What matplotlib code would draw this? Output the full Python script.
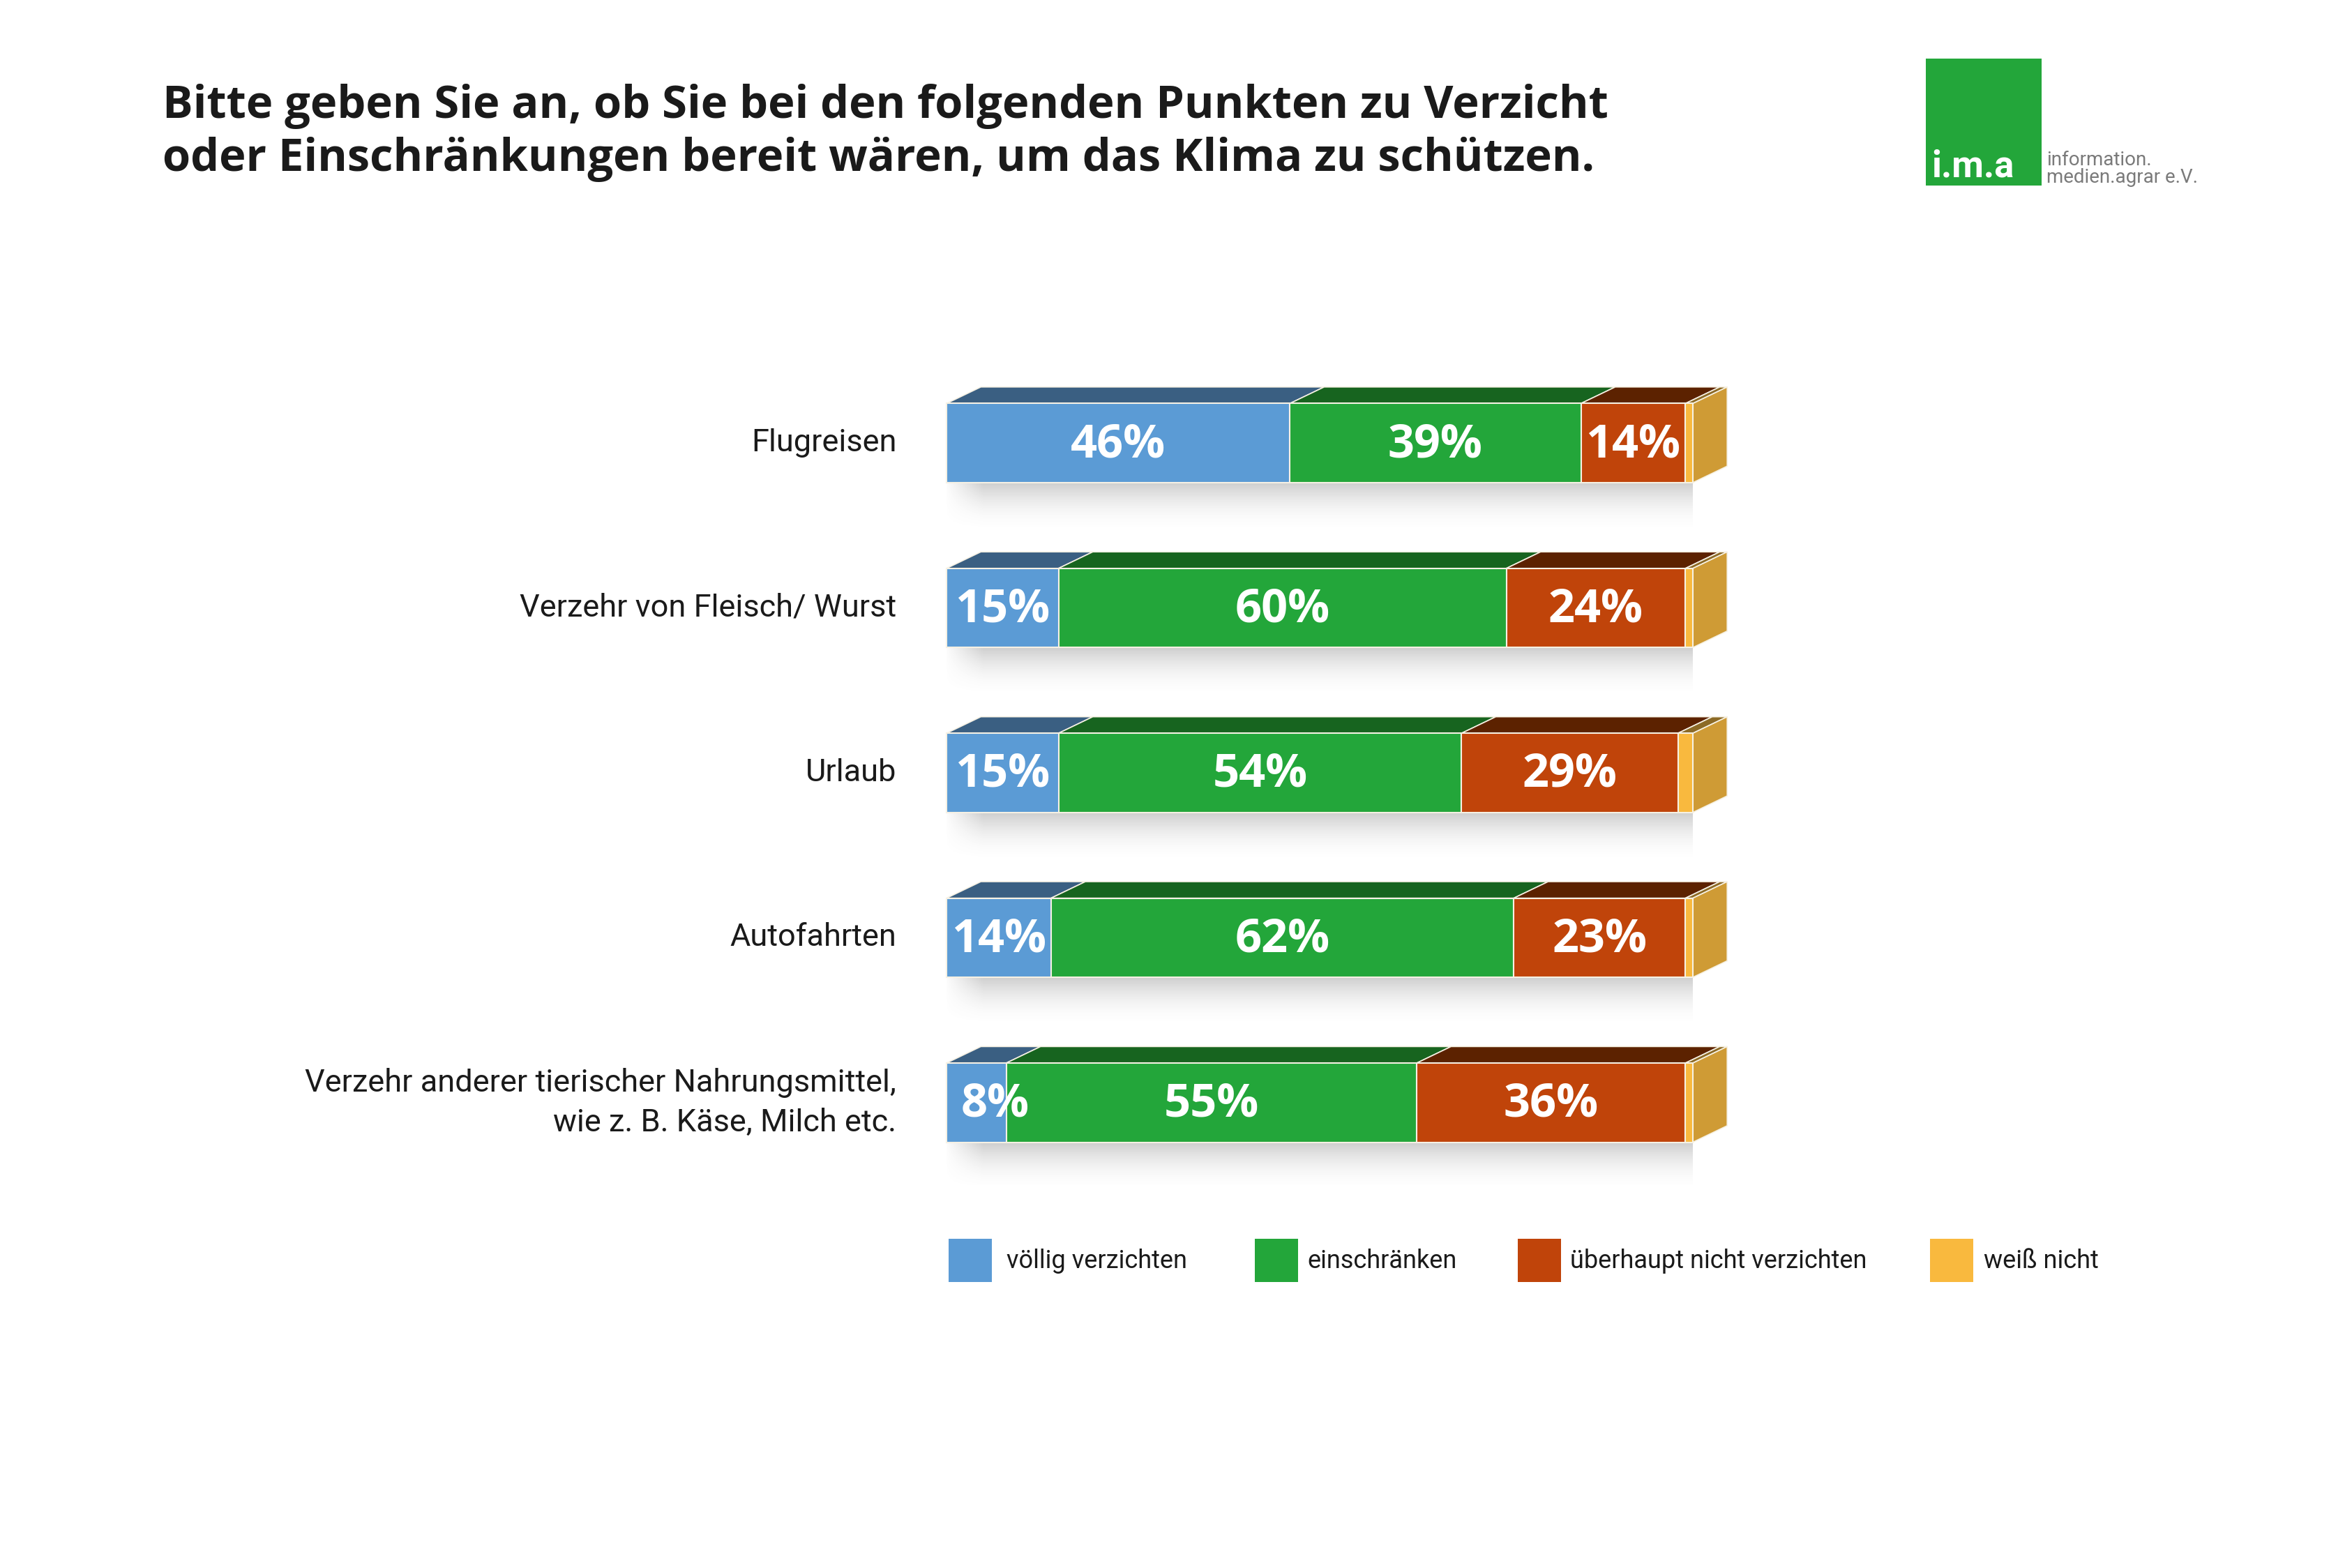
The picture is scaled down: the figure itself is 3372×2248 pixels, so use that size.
import numpy as np
import matplotlib
matplotlib.use("Agg")
import matplotlib.pyplot as plt
from matplotlib.patches import Polygon, Rectangle
from matplotlib import font_manager

# ------------------------ Data ------------------------
categories = [
    "Flugreisen",
    "Verzehr von Fleisch/ Wurst",
    "Urlaub",
    "Autofahrten",
    "Verzehr anderer tierischer Nahrungsmittel,\nwie z. B. Käse, Milch etc.",
]
voellig = [46, 15, 15, 14, 8]
einschraenken = [39, 60, 54, 62, 55]
ueberhaupt_nicht = [14, 24, 29, 23, 36]
weiss_nicht = [1, 1, 2, 1, 1]
series_names = ["völlig verzichten", "einschränken", "überhaupt nicht verzichten", "weiß nicht"]
show_label = [True, True, True, False]

TITLE = ("Bitte geben Sie an, ob Sie bei den folgenden Punkten zu Verzicht\n"
         "oder Einschränkungen bereit wären, um das Klima zu schützen.")

# ------------------------ Style ------------------------
front_colors = ["#5b9bd5", "#23a63a", "#c0440a", "#f9b93e"]
top_colors = ["#3a5f82", "#17641f", "#5c2200", "#8c6a26"]
side_color = "#cf9b35"
edge_col = "#f6f1e4"

names = {f.name for f in font_manager.fontManager.ttflist}
NARROW = "Roboto" if "Roboto" in names else "DejaVu Sans"
BOLD = "Open Sans" if "Open Sans" in names else "DejaVu Sans"

W, H = 3372, 2248
fig = plt.figure(figsize=(W / 100, H / 100), dpi=100)
fig.patch.set_facecolor("white")

# axes: x 0..100 spans 1357..2427 px, categories centred 635..1581 px
ax = fig.add_axes([1357 / W, 1 - 1699 / H, 1070 / W, 1182 / H])
ax.set_xlim(0, 100)
ax.set_ylim(4.5, -0.5)
ax.axis("off")

bar_h = 0.48
dx = 4.6
dy = 0.10

series = [voellig, einschraenken, ueberhaupt_nicht, weiss_nicht]

for i in range(len(categories)):
    top = i - bar_h / 2
    bot = i + bar_h / 2
    total = sum(s[i] for s in series)

    # soft shadow underneath
    ys = np.linspace(0, 1, 80)[:, None]
    xs = np.linspace(0, 1, 300)[None, :]
    alpha = 0.38 * (1 - ys) ** 2.0 * np.clip(np.minimum(xs, 1 - xs) / 0.05, 0, 1)
    img = np.zeros((80, 300, 4))
    img[..., :3] = 0.45
    img[..., 3] = alpha
    ax.imshow(img, extent=(-0.5, total + dx + 1.0, bot + 0.30, bot - 0.01), aspect="auto",
              interpolation="bilinear", zorder=1)

    left = 0
    for k, s in enumerate(series):
        v = s[i]
        right = left + v
        ax.add_patch(Polygon([(left, top), (right, top), (right + dx, top - dy), (left + dx, top - dy)],
                             closed=True, facecolor=top_colors[k], edgecolor=edge_col, lw=1.2,
                             zorder=3, clip_on=False))
        ax.add_patch(Rectangle((left, top), v, bar_h, facecolor=front_colors[k],
                               edgecolor=edge_col, lw=1.5, zorder=4, clip_on=False))
        if show_label[k]:
            xc = max(left + v / 2, left + 6.5)
            ax.text(xc, i + 0.01, f"{v}%", ha="center", va="center", color="white",
                    fontsize=48, fontweight="bold", family=BOLD, zorder=6, clip_on=False)
        left = right
    # right side face
    ax.add_patch(Polygon([(left, top), (left + dx, top - dy), (left + dx, bot - dy), (left, bot)],
                         closed=True, facecolor=side_color, edgecolor=edge_col, lw=1.2,
                         zorder=3, clip_on=False))

ax.set_xlim(0, 100)
ax.set_ylim(4.5, -0.5)

# category labels
for i, c in enumerate(categories):
    ax.text(-6.7, i, c, ha="right", va="center", multialignment="right", fontsize=32.5,
            family=NARROW, color="#1a1a1a", linespacing=1.45)

# title
fig.text(233 / W, 1 - 120 / H, TITLE, ha="left", va="top", fontsize=46.8, fontweight="bold",
         family=BOLD, color="#1a1a1a", linespacing=1.22)

# logo
fig.patches.append(Rectangle((2761 / W, 1 - 266 / H), 166 / W, 182 / H, transform=fig.transFigure,
                             facecolor="#23a63a", edgecolor="none"))
fig.text(2769 / W, 1 - 253 / H, "i.m.a", ha="left", va="baseline", fontsize=38, fontweight="bold",
         family=NARROW, color="white")
fig.text(2934 / W, 1 - 237 / H, "information.", ha="left", va="baseline",
         fontsize=20, family=NARROW, color="#7a7a7a")
fig.text(2934 / W, 1 - 262 / H, "medien.agrar e.V.", ha="left", va="baseline",
         fontsize=20, family=NARROW, color="#7a7a7a")

# legend (manual, positions)
leg_sq_x = [1360, 1799, 2176, 2767]
leg_txt_x = [1443, 1874, 2251, 2844]
for k in range(4):
    fig.patches.append(Rectangle((leg_sq_x[k] / W, 1 - 1838 / H), 62 / W, 62 / H,
                                 transform=fig.transFigure, facecolor=front_colors[k],
                                 edgecolor="none"))
    fig.text(leg_txt_x[k] / W, 1 - 1808 / H, series_names[k], ha="left", va="center",
             fontsize=26, family=NARROW, color="#1a1a1a")

fig.savefig("out.png", dpi=100, facecolor="white")
